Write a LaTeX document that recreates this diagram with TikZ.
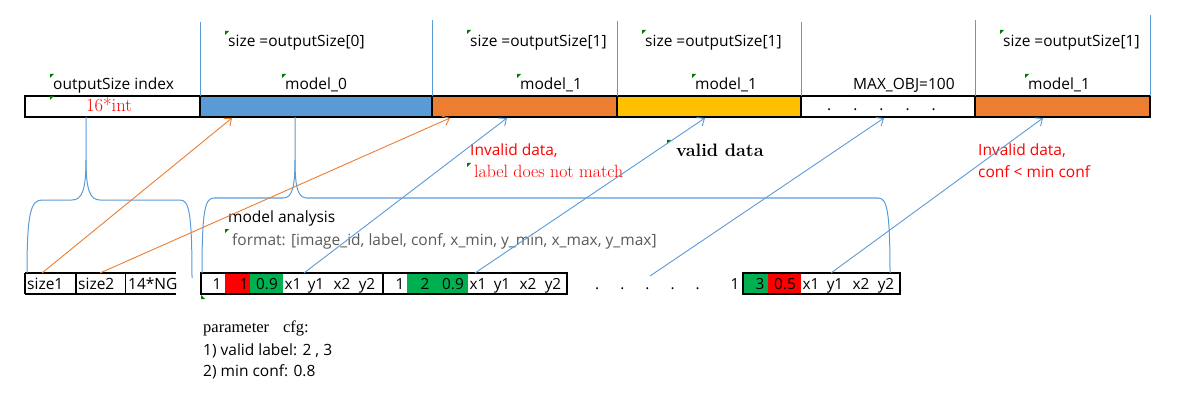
\documentclass[tikz,border=0pt]{standalone}
\usepackage{fontspec}
\usetikzlibrary{arrows.meta}
\newfontfamily\sa{Open Sans}
\newfontfamily\se{Liberation Serif}
\definecolor{cblue}{HTML}{5B9BD5}
\definecolor{corange}{HTML}{ED7D31}
\definecolor{cyellow}{HTML}{FFC000}
\definecolor{cred}{HTML}{FF0000}
\definecolor{cgreen}{HTML}{00B050}
\definecolor{mkgreen}{HTML}{007A00}
\definecolor{fmtgray}{HTML}{595959}
\begin{document}
\begin{tikzpicture}[x=1pt,y=-1pt,
  cell/.style={draw=black, line width=1.1pt, minimum height=21pt, inner sep=0pt, outer sep=0pt, anchor=north west},
  fcell/.style={minimum height=21pt, inner sep=0pt, outer sep=0pt, anchor=north west},
  txt/.style={font=\sa\fontsize{15.5}{18}\selectfont, inner sep=0pt, anchor=base west},
  rtxt/.style={font=\sa\fontsize{15.3}{18}\selectfont, inner sep=0pt, anchor=base},
  sertxt/.style={font=\rmfamily\fontsize{17.8}{20}\selectfont, inner sep=0pt, anchor=base west},
  vline/.style={draw=cblue, line width=0.9pt},
  brace/.style={draw=cblue, line width=1pt},
  oarr/.style={draw=corange, line width=0.9pt, -{Straight Barb[length=6pt,width=10pt]}},
  barr/.style={draw=cblue, line width=0.9pt, -{Straight Barb[length=6pt,width=10pt]}},
  mk/.style={fill=mkgreen}
]
\useasboundingbox (0,0) rectangle (1192,401);

% ---------- top bar ----------
\node[cell, fill=white,   minimum width=175pt] (c0) at (25,96) {};
\node[cell, fill=cblue,   minimum width=232pt] (c1) at (200,96) {};
\node[cell, fill=corange, minimum width=185pt] (c2) at (432,96) {};
\node[cell, fill=cyellow, minimum width=184pt] (c3) at (617,96) {};
\node[cell, fill=white,   minimum width=174pt] (c4) at (801,96) {};
\node[cell, fill=corange, minimum width=175pt] (c5) at (975,96) {};

% vertical separators above bar
\draw[vline] (c1.north west) -- ++(0,-74);
\draw[vline] (c2.north west) -- ++(0,-76);
\draw[vline] (c3.north west) -- ++(0,-75);
\draw[vline] (c4.north west) -- ++(0,-74);
\draw[vline] (c5.north west) -- ++(0,-76);
\draw[vline] (c5.north east) -- ++(0,-81);

% top labels
\node[txt] (t0) at (228,46.5) {size =outputSize[0]};
\node[txt] (t1) at (470,46.5) {size =outputSize[1]};
\node[txt] (t2) at (645,46.5) {size =outputSize[1]};
\node[txt] (t3) at (1003,46.5) {size =outputSize[1]};
\node[txt] (l0) at (53,90) {outputSize index};
\node[txt] (l1) at (285,90) {model\_0};
\node[txt] (l2) at (520,90) {model\_1};
\node[txt] (l3) at (695,90) {model\_1};
\node[txt] (l4) at (853,90) {MAX\_OBJ=100};
\node[txt] (l5) at (1028,90) {model\_1};
\node[sertxt, font=\rmfamily\fontsize{18.5}{20}\selectfont, text=cred] (int) at (86,111.5) {16*int};
\node[txt] (dots1) at (827,111) {.\hspace{22pt}.\hspace{22pt}.\hspace{22pt}.\hspace{22pt}.};

% green markers
\foreach \p in {(50,74),(50,96),(225,31),(282,74),(467,30),(517,74),(642,30),(692,74),(1000,30),(1025,74),(667,140),(467,163),(225,229)}
  \fill[mk] \p -- ++(4,0) -- ++(-4,4) -- cycle;
\fill[mk] (201,295) -- ++(0,4) -- ++(4,0) -- cycle;

% ---------- middle labels ----------
\node[txt, text=cred] (inv1) at (470,156) {Invalid data,};
\node[sertxt, text=cred] (inv1b) at (474,178) {label does not match};
\node[sertxt, font=\rmfamily\bfseries\fontsize{18}{20}\selectfont] (val) at (676,156.5) {valid data};
\node[txt, text=cred] (inv2) at (978,156) {Invalid data,};
\node[txt, text=cred] (inv2b) at (978,178) {conf < min conf};
\node[txt] (ma) at (228,222.5) {model analysis};
\node[txt, text=fmtgray] (fmt) at (232,245) {format: [image\_id, label, conf, x\_min, y\_min, x\_max, y\_max]};

% ---------- bottom left group ----------
\draw[black, line width=1.1pt] (25,273) -- (176,273) (25,294) -- (176,294)
  (25,273) -- (25,294) (76,273) -- (76,294) (125.5,273) -- (125.5,294);
\node[txt] (s1) at (27,289) {size1};
\node[txt] (s2) at (78,289) {size2};
\node[txt] (ng) at (128,289) {14*NG};

% ---------- record group ----------
\node[fcell, fill=cred,   minimum width=25pt] (r1) at (225,273) {};
\node[fcell, fill=cgreen, minimum width=33pt] (g1) at (250,273) {};
\node[fcell, fill=cgreen, minimum width=61pt] (g2) at (407,273) {};
\node[cell, minimum width=366pt] (rec) at (201,273) {};
\draw[black, line width=1.1pt] (383,273) -- (383,294);
\node[rtxt] at (217,289) {1};
\node[rtxt] at (244,289) {1};
\node[rtxt] at (267,289) {0.9};
\node[rtxt] at (293,289) {x1};
\node[rtxt] at (316,289) {y1};
\node[rtxt] at (342,289) {x2};
\node[rtxt] at (367,289) {y2};
\node[rtxt] at (400,289) {1};
\node[rtxt] at (425,289) {2};
\node[rtxt] at (453,289) {0.9};
\node[rtxt] at (478,289) {x1};
\node[rtxt] at (502,289) {y1};
\node[rtxt] at (528,289) {x2};
\node[rtxt] at (553,289) {y2};
\node[txt] (dots2) at (595,289) {.\hspace{21pt}.\hspace{21pt}.\hspace{21pt}.\hspace{21pt}.};
\node[rtxt] at (735,289) {1};
\node[fcell, fill=cgreen, minimum width=25pt] (g3) at (743,273) {};
\node[fcell, fill=cred,   minimum width=33pt] (r3) at (768,273) {};
\node[cell, minimum width=157pt] (rec3) at (743,273) {};
\node[rtxt] at (760,289) {3};
\node[rtxt] at (785,289) {0.5};
\node[rtxt] at (811,289) {x1};
\node[rtxt] at (835,289) {y1};
\node[rtxt] at (861,289) {x2};
\node[rtxt] at (886,289) {y2};

% ---------- bottom parameter text ----------
\node[anchor=base west, inner sep=0pt, font=\se\fontsize{16.5}{19}\selectfont] (par) at (203,332) {parameter\hspace{14pt}cfg:};
\node[txt] (p1) at (203,355) {1) valid label: 2 , 3};
\node[txt] (p2) at (203,376.5) {2) min conf: 0.8};

% ---------- braces ----------
\draw[brace] (27,273) .. controls (27,212) and (31,200) .. (42,200) -- (72,200)
  .. controls (82,200) and (86,190) .. (86,160) -- (c0.south -| 86,0);
\draw[brace] (86,160) .. controls (86,190) and (90,200) .. (100,200) -- (180,200)
  .. controls (189,200) and (192,212) .. (192,278);
\draw[brace] (202,273) .. controls (202,210) and (205,198) .. (214,198) -- (283,198)
  .. controls (292,198) and (295,188) .. (295,160) -- (c1.south -| 295,0);
\draw[brace] (295,160) .. controls (295,188) and (298,198) .. (307,198) -- (878,198)
  .. controls (887,198) and (890,210) .. (890,273);

% ---------- arrows ----------
\coordinate (o1s) at (42,273);  \coordinate (o1e) at (232,118);
\coordinate (o2s) at (100,273); \coordinate (o2e) at (450,118);
\coordinate (b1s) at (304,273); \coordinate (b1e) at (507,118);
\coordinate (b2s) at (475,273); \coordinate (b2e) at (705,118);
\coordinate (b3s) at (650,276); \coordinate (b3e) at (884,118);
\coordinate (b4s) at (831,273); \coordinate (b4e) at (1043,118);
\draw[oarr] (o1s) -- (o1e);
\draw[oarr] (o2s) -- (o2e);
\draw[barr] (b1s) -- (b1e);
\draw[barr] (b2s) -- (b2e);
\draw[barr] (b3s) -- (b3e);
\draw[barr] (b4s) -- (b4e);
\end{tikzpicture}
\end{document}
